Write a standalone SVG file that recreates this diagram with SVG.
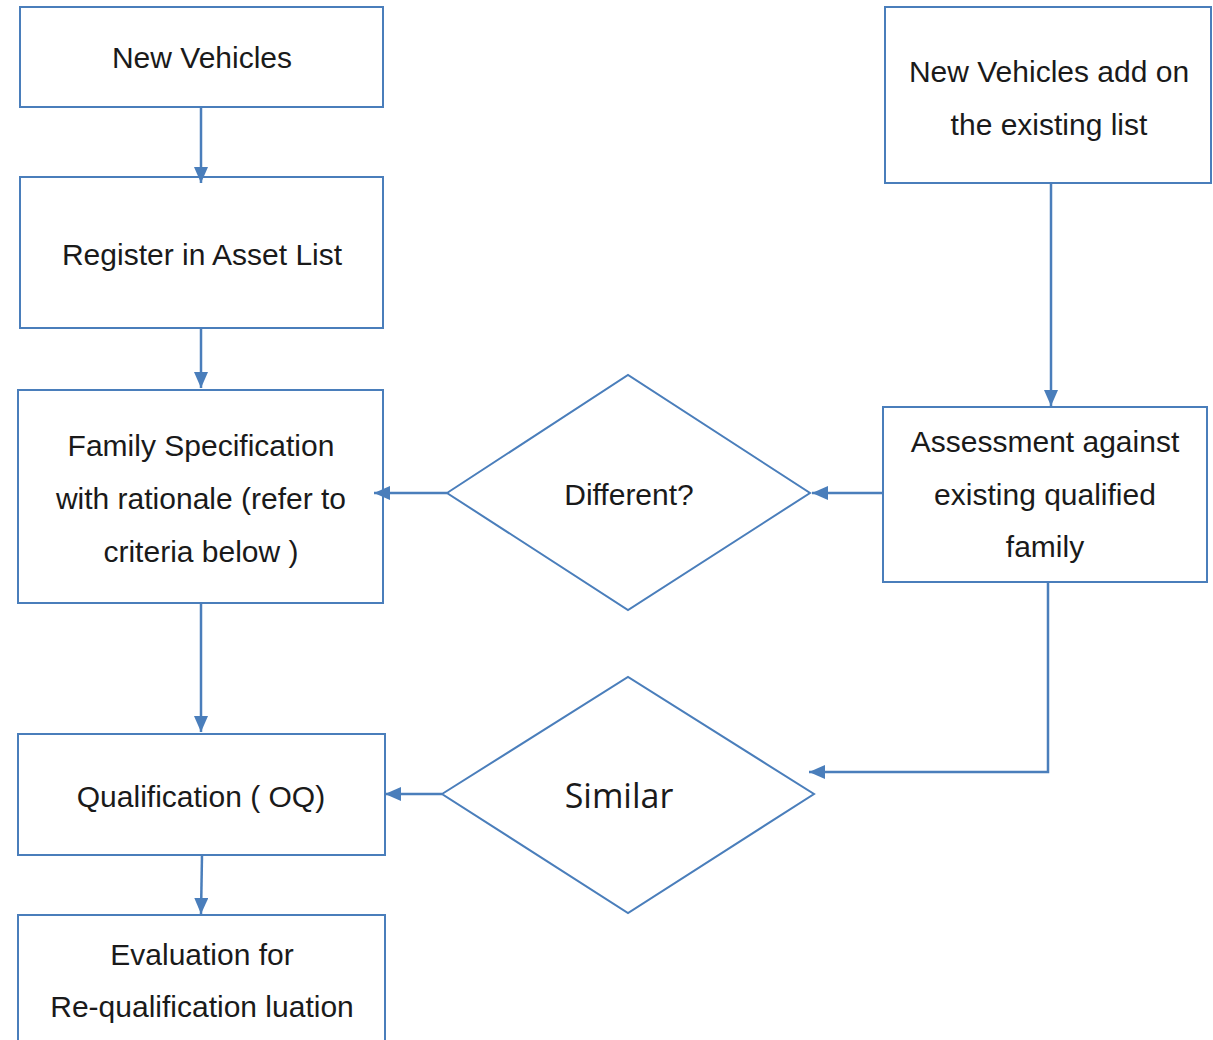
<svg xmlns="http://www.w3.org/2000/svg" width="1213" height="1040" viewBox="0 0 1213 1040">
<style>
.box{fill:#fff;stroke:#4a7ebb;stroke-width:2}
.t{font-family:"Liberation Sans",Arial,sans-serif;font-size:30px;fill:#1a1a1a;text-anchor:middle}
.s{font-family:"Open Sans","Noto Sans",sans-serif;font-size:34px;fill:#1a1a1a;text-anchor:middle}
.c{fill:none;stroke:#4a7ebb;stroke-width:2.5}
</style>
<defs>
<marker id="a" viewBox="0 0 16 14" refX="16" refY="7" markerWidth="16" markerHeight="14" markerUnits="userSpaceOnUse" orient="auto">
<path d="M0,0 L16,7 L0,14 Z" fill="#4a7ebb"/>
</marker>
</defs>
<rect width="1213" height="1040" fill="#fff"/>
<g id="n1"><rect class="box" x="20" y="7" width="363" height="100"/><text class="t" x="202" y="68">New Vehicles</text></g>
<g id="n2"><rect class="box" x="20" y="177" width="363" height="151"/><text class="t" x="202" y="265">Register in Asset List</text></g>
<g id="n3"><rect class="box" x="18" y="390" width="365" height="213"/>
<text class="t" x="201" y="456">Family Specification</text>
<text class="t" x="201" y="509">with rationale (refer to</text>
<text class="t" x="201" y="562">criteria below )</text></g>
<g id="n4"><rect class="box" x="18" y="734" width="367" height="121"/><text class="t" x="201" y="807">Qualification ( OQ)</text></g>
<g id="n5"><rect class="box" x="18" y="915" width="367" height="140"/>
<text class="t" x="202" y="965">Evaluation for</text>
<text class="t" x="202" y="1017">Re-qualification luation</text></g>
<g id="n6"><rect class="box" x="885" y="7" width="326" height="176"/>
<text class="t" x="1049" y="82">New Vehicles add on</text>
<text class="t" x="1049" y="135">the existing list</text></g>
<g id="n7"><rect class="box" x="883" y="407" width="324" height="175"/>
<text class="t" x="1045" y="452">Assessment against</text>
<text class="t" x="1045" y="505">existing qualified</text>
<text class="t" x="1045" y="557">family</text></g>
<g id="d1"><polygon class="box" points="447,493 628,375 810,493 628,610"/><text class="t" x="629" y="505">Different?</text></g>
<g id="d2"><polygon class="box" points="442,794 628,677 814,794 628,913"/><text class="s" x="619" y="808">Similar</text></g>
<g id="connectors">
<path class="c" d="M201,107 V183" marker-end="url(#a)"/>
<path class="c" d="M201,328 V388" marker-end="url(#a)"/>
<path class="c" d="M201,603 V732" marker-end="url(#a)"/>
<path class="c" d="M202,855 L201,914" marker-end="url(#a)"/>
<path class="c" d="M1051,183 V406" marker-end="url(#a)"/>
<path class="c" d="M883,493 H812" marker-end="url(#a)"/>
<path class="c" d="M447,493 H374" marker-end="url(#a)"/>
<path class="c" d="M1048,582 V772 H809" marker-end="url(#a)"/>
<path class="c" d="M442,794 H385" marker-end="url(#a)"/>
</g>
</svg>
